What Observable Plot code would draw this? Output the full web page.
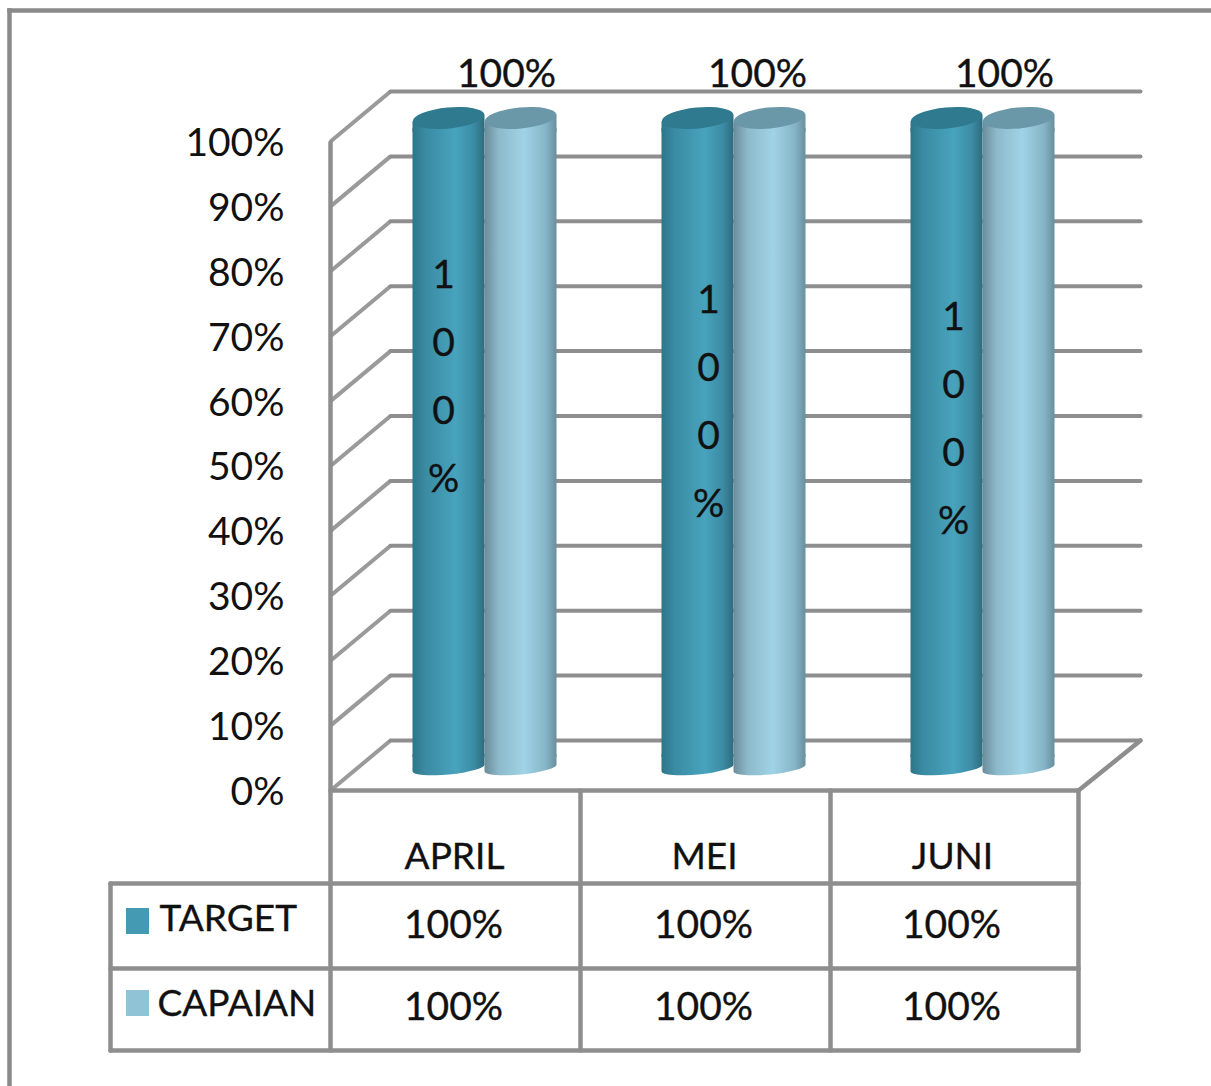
<!DOCTYPE html>
<html>
<head>
<meta charset="utf-8">
<script src="https://cdn.jsdelivr.net/npm/d3@7"></script>
<script src="https://cdn.jsdelivr.net/npm/@observablehq/plot@0.6"></script>
<style>
  html, body { margin: 0; padding: 0; background: #fff; }
  svg { display: block; }
</style>
</head>
<body>
<script>
// Monthly target versus achievement
const months = ["APRIL", "MEI", "JUNI"];
const seriesNames = ["TARGET", "CAPAIAN"];
const targetValues = [100, 100, 100];
const capaianValues = [100, 100, 100];
const yTicks = [0, 10, 20, 30, 40, 50, 60, 70, 80, 90, 100];

// Layout, in pixels
const FONT = "Lato, 'Open Sans', sans-serif";
const LINE = "#8e8e8e";
const INK = "#111";
const X0 = 330, X_STEP = 249, Y0 = 790, Y_UNIT = 6.49;
const DEPTH_X = 60, DEPTH_Y = 50;
const BAR_WIDTH = 72, BAR_SHIFT_X = 30, BAR_SHIFT_Y = 23;
const toX = (px) => (px - X0) / X_STEP;
const toY = (px) => (Y0 - px) / Y_UNIT;
const pct = (v) => `${v}%`;

const seriesValues = [targetValues, capaianValues];
const bars = months.flatMap((month, i) => seriesNames.map((series, s) => {
  const centre = i + 0.5 + toX(X0 + BAR_SHIFT_X);
  const x1 = centre + (s - 1) * BAR_WIDTH / X_STEP;
  return {month, series, value: seriesValues[s][i], i, s, x1, x2: x1 + BAR_WIDTH / X_STEP};
}));
const bar0 = BAR_SHIFT_Y / Y_UNIT;

const BODY = ["url(#cylinder-target)", "url(#cylinder-capaian)"];
const CAP = ["#2f7a8e", "#6b98a9"];
const SWATCH = ["#4499b3", "#90c3d5"];

// Horizontal colour ramps that give the bars their rounded shading
function gradients() {
  const defs = d3.create("svg:defs");
  const ramps = [
    [[0, "#2d7689"], [0.18, "#3a8ba3"], [0.6, "#48a3bd"], [0.85, "#3b8ca4"], [1, "#2e6c7e"]],
    [[0, "#6a8c9a"], [0.2, "#8dbacb"], [0.55, "#a0d3e6"], [0.85, "#86b5c7"], [1, "#688f9e"]]
  ];
  ramps.forEach((stops, k) => {
    const g = defs.append("linearGradient")
      .attr("id", k ? "cylinder-capaian" : "cylinder-target")
      .attr("x1", 0).attr("x2", 1).attr("y1", 0).attr("y2", 0);
    for (const [o, c] of stops) g.append("stop").attr("offset", o).attr("stop-color", c);
  });
  return defs.node();
}

// Elliptical ends of each bar, placed with the chart's own scales
function cylinderEnds(index, {x, y}) {
  const g = d3.create("svg:g");
  const TILT = -5.5, LIFT = 3.5, BASE_DROP = 1, BASE_RY = 6.5, TOP_RY = 10.5;
  for (const b of bars) {
    const l = x(b.x1), r = x(b.x2);
    const rx = (r - l) / 2, cx = (l + r) / 2;
    const top = y(b.value + bar0), base = y(bar0) + BASE_DROP;
    // lower end
    g.append("path")
      .attr("d", `M${l},${base + LIFT}A${rx},${BASE_RY} ${TILT} 0 0 ${r},${base - LIFT}L${r},${base - 14}L${l},${base - 14}Z`)
      .attr("fill", BODY[b.s]);
    // shoulder under the top face
    g.append("path")
      .attr("d", `M${l},${top + LIFT}L${r},${top - LIFT}L${r},${top + 14}L${l},${top + 14}Z`)
      .attr("fill", BODY[b.s]);
    // top face
    g.append("ellipse")
      .attr("cx", cx).attr("cy", top).attr("rx", rx).attr("ry", TOP_RY)
      .attr("transform", `rotate(${TILT} ${cx} ${top})`)
      .attr("fill", CAP[b.s]);
  }
  return g.node();
}

// Hand-placed data labels
const TOP_LABEL_X = [506, 757, 1004];
const TOP_LABEL_Y = 74;
const SIDE_LABEL_X = [443, 708, 953];
const SIDE_LABEL_Y = [368, 393, 410];

// Table rows and columns
const COLUMN_EDGES = [330, 580, 830, 1078];
const COLUMN_TEXT = [453, 703, 951];
const ROW_EDGES = [883, 968, 1050];
const HEADER_Y = 857;
const ROW_TEXT_Y = [925, 1007];
const LEGEND_TEXT = [{x: 159, y: 919}, {x: 157, y: 1004}];
const SWATCH_BOX = [{y1: 908, y2: 934}, {y1: 990, y2: 1016}];
const TABLE_LEFT = 110;

const seg = (x1, y1, x2, y2) => ({x1: toX(x1), y1: toY(y1), x2: toX(x2), y2: toY(y2)});
const linkOf = (data, options) => Plot.link(data, {x1: "x1", y1: "y1", x2: "x2", y2: "y2", ...options});

const frameLines = [seg(9, 10, 1211, 10), seg(9, 10, 9, 1086)];
const slants = yTicks.map((v) => {
  const py = Y0 - v * Y_UNIT;
  return seg(X0, py, X0 + DEPTH_X, py - DEPTH_Y);
});
const backLines = yTicks.map((v) => {
  const py = Y0 - v * Y_UNIT - DEPTH_Y;
  return seg(X0 + DEPTH_X, py, 1140, py);
});
const tableLines = [
  seg(330, 142, 330, 1050),
  seg(330, 790, 1078, 790),
  seg(1078, 790, 1140, 740),
  ...COLUMN_EDGES.slice(1).map((e) => seg(e, 790, e, 1050)),
  ...ROW_EDGES.map((e) => seg(TABLE_LEFT, e, 1078, e)),
  seg(TABLE_LEFT, 883, TABLE_LEFT, 1050)
];

const tableCells = months.flatMap((month, i) =>
  seriesNames.map((series, s) => ({
    x: toX(COLUMN_TEXT[i]), y: toY(ROW_TEXT_Y[s]), text: pct(seriesValues[s][i])
  })));

// Slight outline on the glyphs for a heavier text colour
const wordStyle = {fontSize: 37, fill: INK, stroke: INK, strokeWidth: 0.35};
const numberStyle = {...wordStyle, fontSize: 39};

const chart = Plot.plot({
  width: 1211,
  height: 1086,
  marginLeft: 284,
  marginRight: 0,
  marginTop: 0,
  marginBottom: 0,
  style: {fontFamily: FONT, background: "#fff"},
  x: {domain: [0, 3], range: [X0, X0 + 3 * X_STEP], axis: null},
  y: {domain: [0, 100], range: [Y0, Y0 - 100 * Y_UNIT]},
  marks: [
    gradients,
    linkOf(frameLines, {stroke: "#8a8a8a", strokeWidth: 4.5, strokeLinecap: "square"}),
    linkOf(slants, {stroke: "#9a9a9a", strokeWidth: 4}),
    linkOf(backLines, {stroke: LINE, strokeWidth: 4, strokeLinecap: "round"}),
    Plot.rectY(bars, {
      x1: "x1", x2: "x2", y1: () => bar0, y2: (d) => d.value + bar0,
      insetTop: 10, insetBottom: 10,
      fill: (d) => BODY[d.s], stroke: "none"
    }),
    cylinderEnds,
    Plot.axisY({
      anchor: "left", ticks: yTicks, tickSize: 0, tickPadding: 0, label: null,
      tickFormat: pct, fontSize: 39, fill: INK, stroke: INK, strokeWidth: 0.35, dy: 2
    }),
    // wall and data-table rules
    linkOf(tableLines, {stroke: LINE, strokeWidth: 4.5, strokeLinecap: "round"}),
    // labels above the bars
    Plot.text(months, {
      x: (d, i) => toX(TOP_LABEL_X[i]), y: () => toY(TOP_LABEL_Y),
      text: (d, i) => pct(capaianValues[i]), ...numberStyle
    }),
    // labels wrapped down the target bars
    Plot.text(months, {
      x: (d, i) => toX(SIDE_LABEL_X[i]), y: (d, i) => toY(SIDE_LABEL_Y[i]),
      text: (d, i) => pct(targetValues[i]).split("").join("\n"),
      lineHeight: 1.74, ...numberStyle
    }),
    // table header
    Plot.text(months, {
      x: (d, i) => toX(COLUMN_TEXT[i] + 1), y: () => toY(HEADER_Y), text: (d) => d, ...wordStyle
    }),
    // table values
    Plot.text(tableCells, {x: "x", y: "y", text: "text", ...numberStyle}),
    // series legend
    Plot.rect(seriesNames, {
      x1: () => toX(126), x2: () => toX(149),
      y1: (d, i) => toY(SWATCH_BOX[i].y2), y2: (d, i) => toY(SWATCH_BOX[i].y1),
      fill: (d, i) => SWATCH[i], stroke: "none"
    }),
    Plot.text(seriesNames, {
      x: (d, i) => toX(LEGEND_TEXT[i].x), y: (d, i) => toY(LEGEND_TEXT[i].y),
      text: (d) => d, textAnchor: "start", ...wordStyle
    })
  ]
});
document.body.appendChild(chart);
</script>
</body>
</html>
